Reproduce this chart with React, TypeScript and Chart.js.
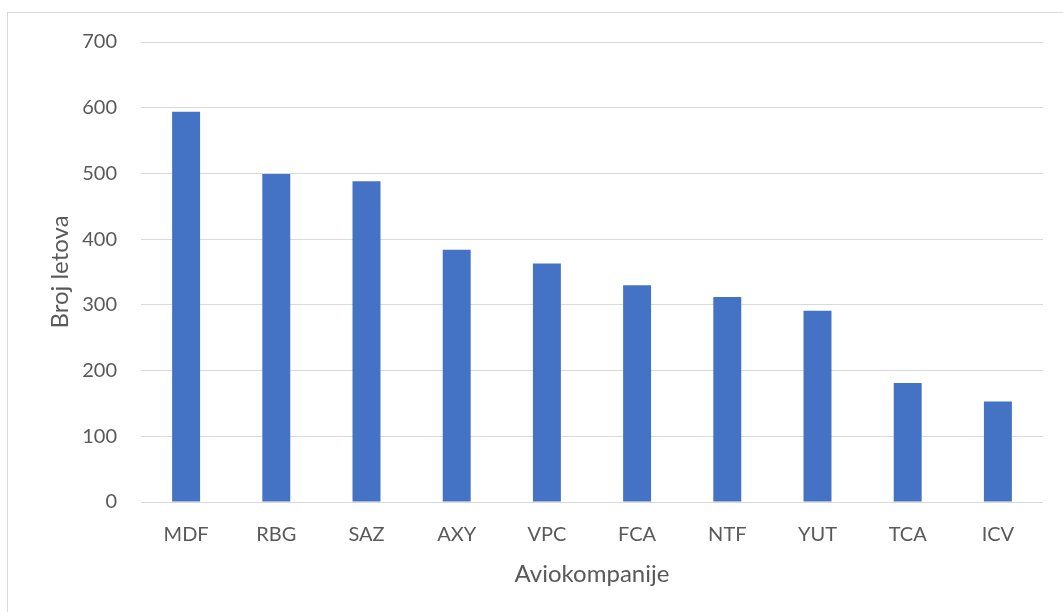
import React, { useEffect, useRef } from "react";
import { Chart, registerables } from "chart.js";

Chart.register(...registerables);

const categories = ["MDF", "RBG", "SAZ", "AXY", "VPC", "FCA", "NTF", "YUT", "TCA", "ICV"];
const flights = [594, 499, 488, 384, 363, 330, 312, 291, 181, 153];
const yTitle = "Broj letova";
const xTitle = "Aviokompanije";

const W = 1063;
const H = 612;

export default function App() {
  const ref = useRef<HTMLCanvasElement | null>(null);

  useEffect(() => {
    if (!ref.current) return;
    const chart = new Chart(ref.current, {
      type: "bar",
      data: {
        labels: categories,
        datasets: [
          {
            data: flights,
            backgroundColor: "#4472C4",
            borderWidth: 0,
            categoryPercentage: 1,
            barPercentage: 0.31,
          },
        ],
      },
      options: {
        responsive: false,
        animation: false,
        layout: { padding: { left: 0, right: 20, top: 42, bottom: 0 } },
        plugins: { legend: { display: false }, tooltip: { enabled: false } },
        scales: {
          x: {
            grid: { display: false, drawTicks: false },
            border: { display: false },
            ticks: {
              color: "#595959",
              font: { family: "Lato", size: 20 },
              padding: 21,
              maxRotation: 0,
            },
            title: {
              display: true,
              text: xTitle,
              color: "#595959",
              font: { family: "Lato", size: 24 },
              padding: { top: 0, bottom: 23 },
            },
            afterFit: (s: any) => {
              s.height = 110;
            },
          },
          y: {
            min: 0,
            max: 700,
            grid: { color: "#d9d9d9", lineWidth: 1, drawTicks: false },
            border: { display: false },
            ticks: {
              stepSize: 100,
              color: "#595959",
              font: { family: "Lato", size: 20 },
              padding: 24,
            },
            title: {
              display: true,
              text: yTitle,
              color: "#595959",
              font: { family: "Lato", size: 24 },
              padding: { top: 46, bottom: 0 },
            },
            afterFit: (s: any) => {
              s.width = 141;
            },
          },
        },
      },
    });
    return () => chart.destroy();
  }, []);

  return (
    <div
      style={{
        position: "fixed",
        left: 0,
        top: 0,
        width: W,
        height: H,
        overflow: "hidden",
        background: "#fff",
      }}
    >
      <div
        style={{
          position: "absolute",
          left: 7,
          top: 12,
          width: 1200,
          height: 800,
          border: "1px solid #d9d9d9",
          boxSizing: "border-box",
        }}
      />
      <canvas
        ref={ref}
        width={W}
        height={H}
        style={{ position: "absolute", left: 0, top: 0, width: W, height: H }}
      />
    </div>
  );
}
